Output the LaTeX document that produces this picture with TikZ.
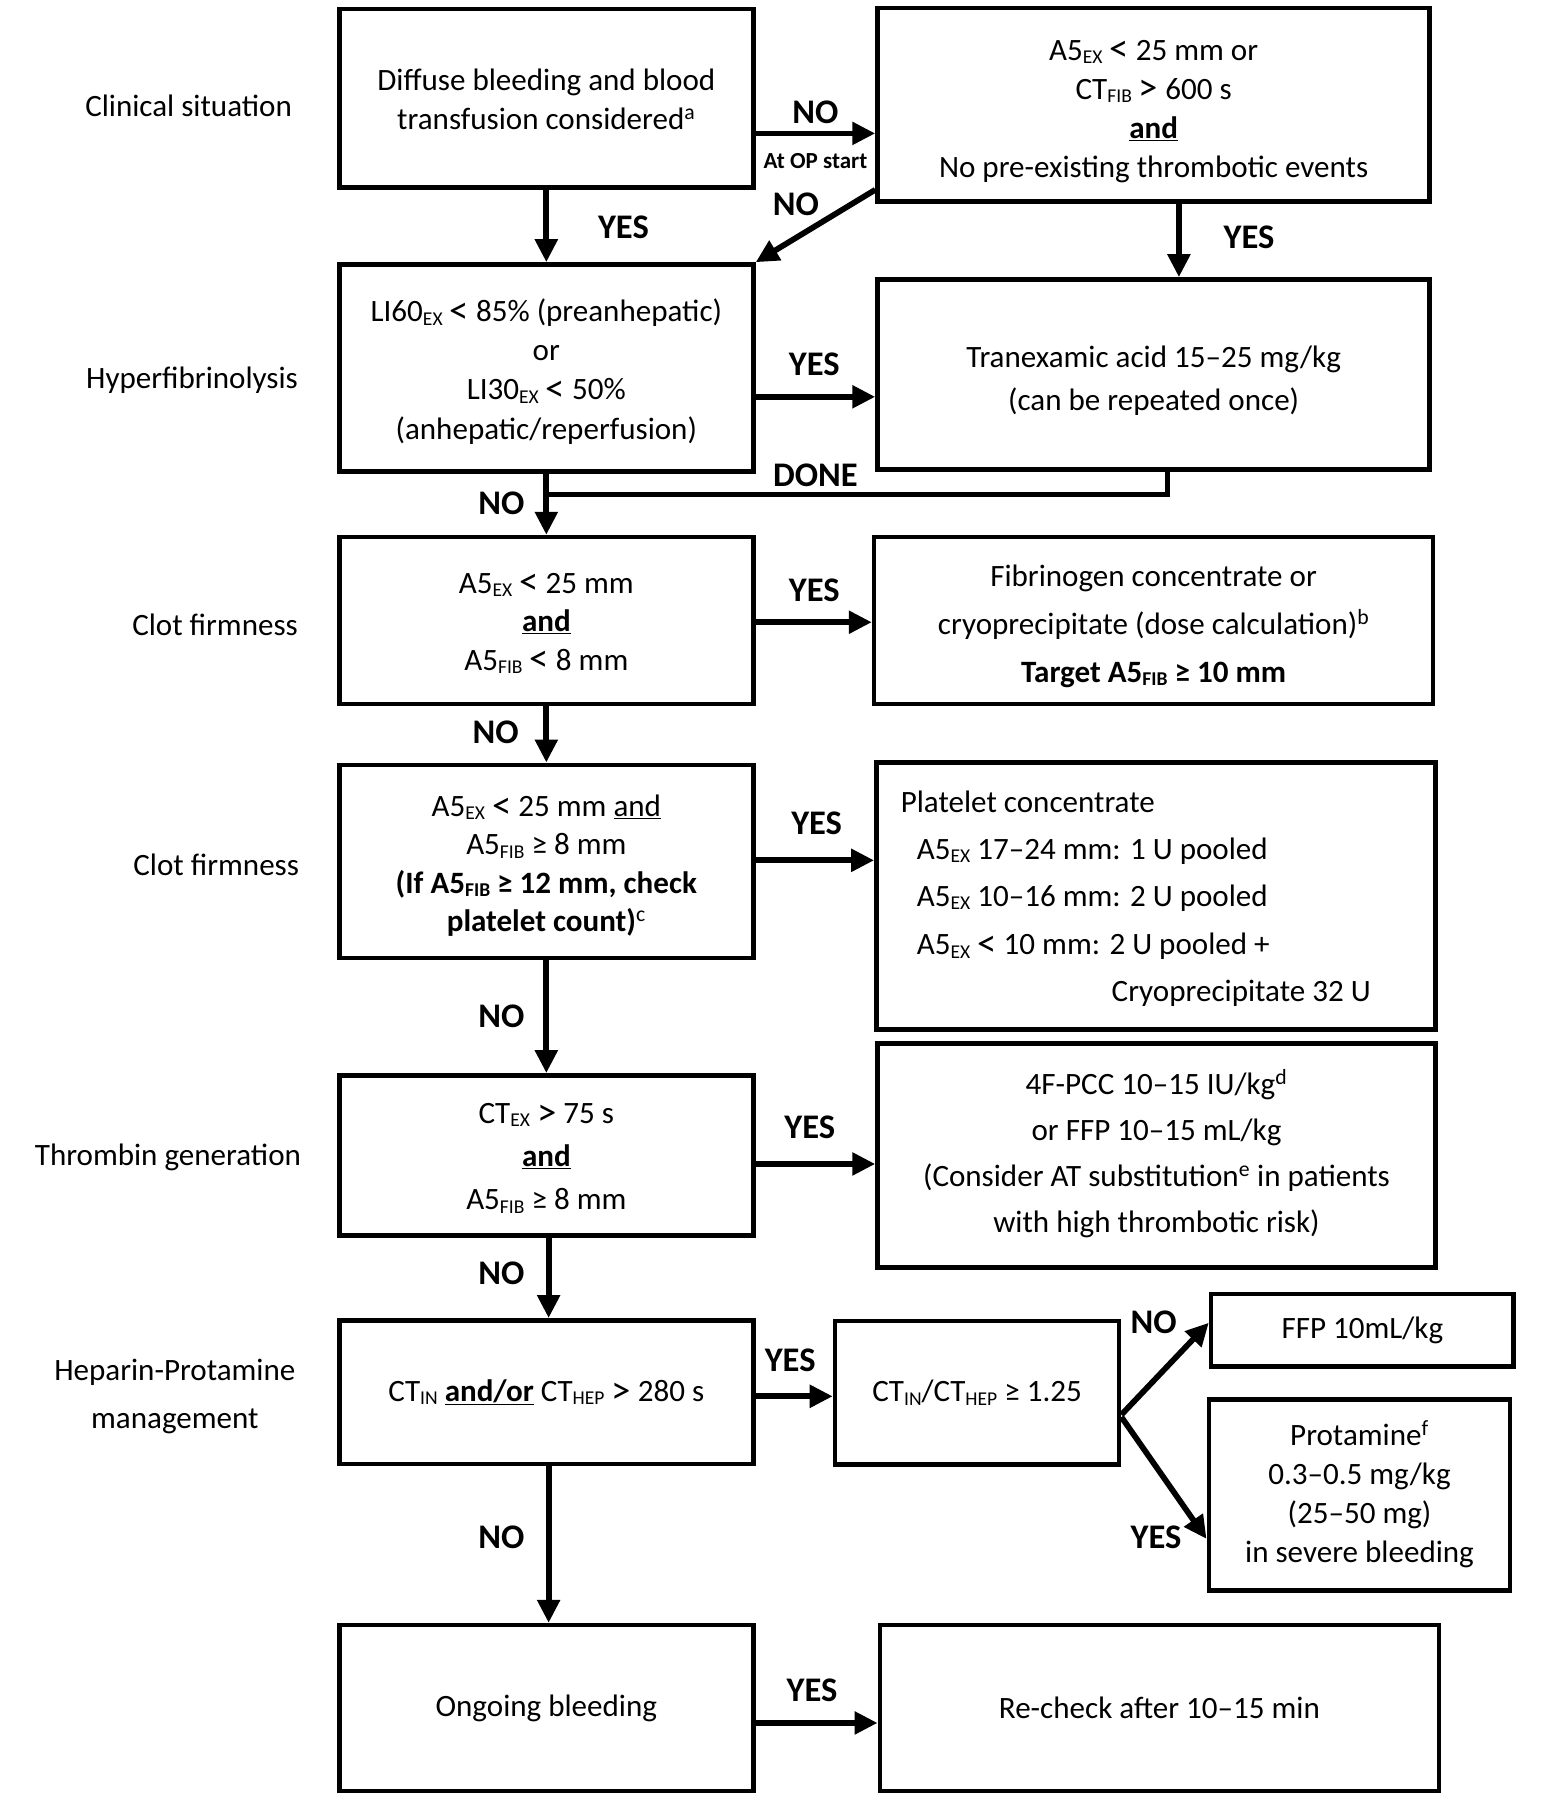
\documentclass[tikz,border=0pt]{standalone}
\usepackage{fontspec}
\setmainfont{Carlito}
\usetikzlibrary{arrows.meta}
\newcommand\sbs[1]{\raisebox{-3pt}{\fontsize{17}{17}\selectfont #1}}
\newcommand\lsym{\raisebox{-1.5pt}{\scalebox{1.25}{<}}}
\newcommand\gsym{\raisebox{-1.5pt}{\scalebox{1.25}{>}}}
\newcommand\tst[1]{\rule{0pt}{#1pt}}
\newcommand\bst[1]{\rule[-#1pt]{0pt}{0pt}}
\begin{document}
\begin{tikzpicture}[x=1pt,y=-1pt,
 box/.style={draw, line width=4pt, inner sep=0pt, align=center, font=\fontsize{27}{34}\selectfont},
 arr/.style={line width=5pt, -{Triangle[length=20pt,width=19pt]}},
 plainline/.style={line width=5pt},
 lbl/.style={font=\bfseries\fontsize{30}{34}\selectfont, inner sep=0pt},
 small/.style={font=\bfseries\fontsize{20}{24}\selectfont, inner sep=0pt},
 side/.style={font=\fontsize{27}{42}\selectfont, align=center, inner sep=0pt},
 txt/.style={font=\fontsize{27}{34}\selectfont, inner sep=0pt},
]
\useasboundingbox (0,0) rectangle (1353,1565);
% side labels
\node[side] (s1) at (164,92) {Clinical situation};
\node[side] (s2) at (167,331) {Hyperfibrinolysis};
\node[side] (s3) at (187,543) {Clot firmness};
\node[side] (s4) at (188,752) {Clot firmness};
\node[side] (s5) at (146,1006) {Thrombin generation};
\node[side] (s6) at (152,1214) {Heparin-Protamine\\management};
% boxes
\node[box, minimum width=360, minimum height=155] (A) at (475,85.5)
 {\tst{29.4}Diffuse bleeding and blood\\transfusion considered\textsuperscript{a}\bst{9}};
\node[box, minimum width=480, minimum height=168] (B) at (1003,91)
 {\tst{33.4}A5\sbs{EX} \lsym{} 25 mm or\\CT\sbs{FIB} \gsym{} 600 s\\\underline{\textbf{and}}\\No pre-existing thrombotic events\bst{9}};
\node[box, minimum width=360, minimum height=180] (C) at (475,320)
 {\tst{30.4}LI60\sbs{EX} \lsym{} 85\% (preanhepatic)\\or\\LI30\sbs{EX} \lsym{} 50\%\\(anhepatic/reperfusion)\bst{9}};
\node[box, minimum width=480, minimum height=165, font=\fontsize{27}{37}\selectfont] (D) at (1003,325.5)
 {\tst{34.4}Tranexamic acid 15–25 mg/kg\\(can be repeated once)\bst{9}};
\node[box, minimum width=360, minimum height=145, font=\fontsize{27}{33.5}\selectfont] (E) at (475,539.5)
 {\tst{28.4}A5\sbs{EX} \lsym{} 25 mm\\\underline{\textbf{and}}\\A5\sbs{FIB} \lsym{} 8 mm\bst{9}};
\node[box, minimum width=486, minimum height=145, font=\fontsize{27}{41.5}\selectfont] (F) at (1003,539.5)
 {\tst{33.4}Fibrinogen concentrate or\\cryoprecipitate (dose calculation)\textsuperscript{b}\\\textbf{Target A5\sbs{FIB} ≥ 10 mm}\bst{9}};
\node[box, minimum width=360, minimum height=168, font=\fontsize{27}{33.5}\selectfont] (G) at (475,749)
 {\tst{30.9}A5\sbs{EX} \lsym{} 25 mm \underline{and}\\A5\sbs{FIB} ≥ 8 mm\\\textbf{(If A5\sbs{FIB} ≥ 12 mm, check}\\\textbf{platelet count)}\textsuperscript{c}\bst{9}};
\node[box, minimum width=486, minimum height=232] (H) at (1005,779) {};
\node[txt, anchor=base west] (h1) at (783,706) {Platelet concentrate};
\node[txt, anchor=base west] (h2) at (797,747) {A5\sbs{EX} 17–24 mm: 1 U pooled};
\node[txt, anchor=base west] (h3) at (797,788) {A5\sbs{EX} 10–16 mm: 2 U pooled};
\node[txt, anchor=base west] (h4) at (797,830) {A5\sbs{EX} \lsym{} 10 mm: 2 U pooled +};
\node[txt, anchor=base east] (h5) at (1192,871) {Cryoprecipitate 32 U};
\node[box, minimum width=360, minimum height=139, font=\fontsize{27}{37.5}\selectfont] (I) at (475,1004.5)
 {\tst{28.4}CT\sbs{EX} \gsym{} 75 s\\\underline{\textbf{and}}\\A5\sbs{FIB} ≥ 8 mm\bst{9}};
\node[box, minimum width=485, minimum height=195, font=\fontsize{27}{40}\selectfont] (J) at (1005.5,1004.5)
 {\tst{26.4}4F-PCC 10–15 IU/kg\textsuperscript{d}\\or FFP 10–15 mL/kg\\(Consider AT substitution\textsuperscript{e} in patients\\with high thrombotic risk)\bst{12}};
\node[box, minimum width=360, minimum height=125] (K) at (475,1210.5)
 {CT\sbs{IN} \underline{\textbf{and/or}} CT\sbs{HEP} \gsym{} 280 s};
\node[box, minimum width=247, minimum height=125] (L) at (849.5,1211)
 {CT\sbs{IN}/CT\sbs{HEP} ≥ 1.25};
\node[box, minimum width=263, minimum height=63] (M) at (1184.5,1156.5)
 {FFP 10mL/kg};
\node[box, minimum width=262, minimum height=166] (N) at (1182,1300)
 {\tst{27.4}Protamine\textsuperscript{f}\\0.3–0.5 mg/kg\\(25–50 mg)\\in severe bleeding\bst{12}};
\node[box, minimum width=360, minimum height=144] (O) at (475,1485)
 {Ongoing bleeding};
\node[box, minimum width=486, minimum height=144] (P) at (1008,1485)
 {Re-check after 10–15 min};
% connectors
\draw[arr] (A.east |- 0,116) -- (B.west |- 0,116);
\draw[arr] (B.west |- 0,165) -- (C.north east);
\draw[arr] (A.south) -- (C.north);
\draw[arr] (1025,0 |- B.south) -- (1025,0 |- D.north);
\draw[arr] (C.east |- 0,345) -- (D.west |- 0,345);
\coordinate (J1) at (475,430);
\draw[plainline] (1015,0 |- D.south) |- (J1);
\draw[arr] (C.south) -- (E.north);
\draw[arr] (E.east |- 0,541) -- (F.west |- 0,541);
\draw[arr] (E.south) -- (G.north);
\draw[arr] (G.east |- 0,748) -- (H.west |- 0,748);
\draw[arr] (G.south) -- (I.north);
\draw[arr] (I.east |- 0,1012) -- (J.west |- 0,1012);
\draw[arr] (477,0 |- I.south) -- (477,0 |- K.north);
\draw[arr] (K.east |- 0,1214) -- (L.west |- 0,1214);
\draw[arr] (L.east |- 0,1230) -- (M.west |- 0,1150);
\draw[arr] (L.east |- 0,1232) -- (N.west |- 0,1338);
\draw[arr] (477,0 |- K.south) -- (477,0 |- O.north);
\draw[arr] (O.east |- 0,1498) -- (P.west |- 0,1498);
% labels
\node[lbl] (l1) at (709,98) {NO};
\node[small] (l2) at (709,140) {At OP start};
\node[lbl] (l3) at (692,178) {NO};
\node[lbl] (l4) at (542,198) {YES};
\node[lbl] (l5) at (1086,206) {YES};
\node[lbl] (l6) at (708,317) {YES};
\node[lbl] (l7) at (709,413) {DONE};
\node[lbl] (l8) at (436,438) {NO};
\node[lbl] (l9) at (708,513) {YES};
\node[lbl] (l10) at (431,637) {NO};
\node[lbl] (l11) at (710,716) {YES};
\node[lbl] (l12) at (436,884) {NO};
\node[lbl] (l13) at (704,980) {YES};
\node[lbl] (l14) at (436,1107) {NO};
\node[lbl] (l15) at (687,1183) {YES};
\node[lbl] (l16) at (1003,1150) {NO};
\node[lbl] (l17) at (1005,1337) {YES};
\node[lbl] (l18) at (436,1337) {NO};
\node[lbl] (l19) at (706,1470) {YES};
\end{tikzpicture}
\end{document}
